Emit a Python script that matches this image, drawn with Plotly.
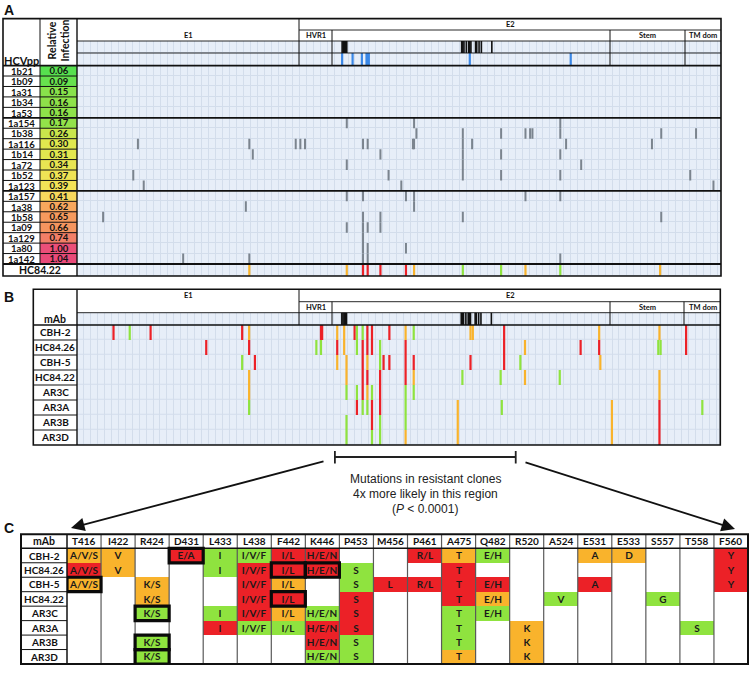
import numpy as np
import plotly.graph_objects as go

# ---------------- Panel A data ----------------
strains = ["1b21", "1b09", "1a31", "1b34", "1a53",
           "1a154", "1b38", "1a116", "1b14", "1a72", "1b52", "1a123",
           "1a157", "1a38", "1b58", "1a09", "1a129", "1a80", "1a142"]
relative_infection = [0.06, 0.09, 0.15, 0.16, 0.16,
                      0.17, 0.26, 0.30, 0.31, 0.34, 0.37, 0.39,
                      0.41, 0.62, 0.65, 0.66, 0.74, 1.00, 1.04]
group_sizes = [5, 7, 7]
strain_mutations = [
    [], [], [], [], [],
    [424, 482, 608],
    [484, 524, 557, 578, 582, 584, 608, 695, 725],
    [244, 340, 380, 384, 388, 438, 442, 481, 482, 524, 532, 613, 687],
    [343, 453, 524, 557, 608],
    [424, 524, 626],
    [240, 460, 524, 557, 608, 720],
    [249, 471, 740],
    [424, 438, 475, 482, 578, 608],
    [337, 482],
    [214, 438, 453, 524, 695],
    [424, 438, 442, 453],
    [438],
    [438, 442, 475],
    [283, 340, 438, 442, 608],
]
cd81_contacts = [420, 421, 422, 423, 424, 523, 524, 525, 527, 529, 530, 531,
                 535, 536, 538, 540, 549]
epitope_sites = [420, 429, 437, 441, 442, 443, 530, 617]

# ---------------- Panel B / C data ----------------
mabs = ["CBH-2", "HC84.26", "CBH-5", "HC84.22", "AR3C", "AR3A", "AR3B", "AR3D"]
table_columns = ["T416", "I422", "R424", "D431", "L433", "L438", "F442", "K446",
                 "P453", "M456", "P461", "A475", "Q482", "R520", "A524", "E531",
                 "E533", "S557", "T558", "F560"]
cell_text = [
    ["A/V/S", "V", "", "E/A", "I", "I/V/F", "I/L", "H/E/N", "", "", "R/L", "T", "E/H", "", "", "A", "D", "", "", "Y"],
    ["A/V/S", "V", "", "", "I", "I/V/F", "I/L", "H/E/N", "S", "", "", "T", "", "", "", "", "", "", "", "Y"],
    ["A/V/S", "", "K/S", "", "", "I/V/F", "I/L", "", "S", "L", "R/L", "T", "E/H", "", "", "A", "", "", "", "Y"],
    ["", "", "K/S", "", "", "I/V/F", "I/L", "", "S", "", "", "T", "E/H", "", "V", "", "", "G", "", ""],
    ["", "", "K/S", "", "I", "I/V/F", "I/L", "H/E/N", "S", "", "", "T", "E/H", "", "", "", "", "", "", ""],
    ["", "", "", "", "I", "I/V/F", "I/L", "H/E/N", "S", "", "", "T", "", "K", "", "", "", "", "S", ""],
    ["", "", "K/S", "", "", "", "", "H/E/N", "S", "", "", "T", "", "K", "", "", "", "", "", ""],
    ["", "", "K/S", "", "", "", "", "H/E/N", "S", "", "", "T", "", "K", "", "", "", "", "", ""],
]
# R = red, O = orange, G = green, . = none
cell_color = [
    "OO.RGGRR..ROG..OO..R",
    "RO..GRRRG..R.......R",
    "O.O..RO.GRRRR..R...R",
    "..O..RR.R..RO.G..G..",
    "..G.GROGR..GG.......",
    "....RGGRR..G.O....G.",
    "..G....RG..G.O......",
    "..G....GG..O.O......",
]
boxed_cells = [("CBH-2", "D431"), ("HC84.26", "F442"), ("HC84.26", "K446"),
               ("CBH-5", "T416"), ("HC84.22", "F442"), ("AR3C", "R424"),
               ("AR3B", "R424"), ("AR3D", "R424")]
extra_mutations = [
    [(223, "R"), (237, "G"), (255, "R"), (334, "R"), (340, "O"), (402, "R"), (403, "R"), (642, "O"), (694, "O"), (717, "R")],
    [(303, "R"), (340, "R"), (398, "G"), (402, "G"), (578, "O"), (626, "R"), (642, "R"), (693, "G"), (695, "G"), (717, "R")],
    [(334, "G"), (345, "R"), (574, "G"), (643, "O")],
    [(340, "O"), (578, "O"), (608, "G"), (694, "O")],
    [(340, "O"), (694, "O")],
    [(340, "G"), (653, "O"), (694, "R"), (731, "G")],
    [(653, "O"), (694, "R")],
    [(653, "O"), (694, "R")],
]
resistant_region = [414, 570]

# ---------------- styles ----------------
W, H = 752, 689
RED, ORANGE, GREEN = "#ec2127", "#f9b32c", "#8fe33f"
COLORS = {"R": RED, "O": ORANGE, "G": GREEN}
GRAY = "#7b848e"
BLUE = "#3a87e6"
CELL = "#e7eef8"
GAP = "#d3ddeb"
FONT = "Lato"
SANS = "Liberation Sans"


def fx(p):
    return p / W


def fy(p):
    return 1 - p / H


def uA(p):  # pixel -> panel A row units
    return -5.0 + (p - 18.6) / 10.442


def uB(p):  # pixel -> panel B row units
    return -2.88 + (p - 289.3) / 15.0


table_residues = [int(c[1:]) for c in table_columns]

fig = go.Figure()


def grid_heatmap(y_edges, xa, ya):
    x_edges = list(np.arange(191.5, 746.5, 6.0)) + [746.5]
    z = np.ones((len(y_edges) - 1, len(x_edges) - 1))
    return go.Heatmap(x=x_edges, y=y_edges, z=z, colorscale=[[0, CELL], [1, CELL]],
                      showscale=False, xgap=1, ygap=1, hoverinfo="skip",
                      xaxis=xa, yaxis=ya)


def vbars(entries, color, width, xa, ya):
    xs, ys = [], []
    for r, y0, y1 in entries:
        xs += [r, r, None]
        ys += [y0, y1, None]
    return go.Scatter(x=xs, y=ys, mode="lines", line=dict(color=color, width=width),
                      hoverinfo="skip", showlegend=False, xaxis=xa, yaxis=ya)


nA = len(strains)
hcA_bottom = 19.65
yA_edges = [uA(41), uA(53)] + [i - 0.5 for i in range(nA + 1)] + [hcA_bottom]
fig.add_trace(grid_heatmap(yA_edges, "x", "y"))
nB = len(mabs)
yB_edges = [uB(312.7)] + [i - 0.5 for i in range(nB + 1)]
fig.add_trace(grid_heatmap(yB_edges, "x2", "y2"))

# relative infection column
stops = [(0.06, "#57e04f"), (0.17, "#93e24a"), (0.26, "#c9e64c"), (0.30, "#e0e84e"),
         (0.39, "#f3e257"), (0.41, "#f7d85d"), (0.62, "#f7a75d"), (0.66, "#f5955f"),
         (0.74, "#f27f67"), (1.00, "#ec4f79"), (1.04, "#ea4a79")]
lo, hi = min(relative_infection), max(relative_infection)
cscale = [[(v - lo) / (hi - lo), c] for v, c in stops]
fig.add_trace(go.Heatmap(
    x=[-0.5, 0.5], y=[i - 0.5 for i in range(nA + 1)],
    z=[[v] for v in relative_infection], zmin=lo, zmax=hi, colorscale=cscale,
    showscale=False, texttemplate="<b>%{z:.2f}</b>",
    textfont=dict(family=FONT, size=9.5, color="#111"),
    hoverinfo="skip", xaxis="x4", yaxis="y"))

# panel C table cells
code = {"R": 1, "O": 2, "G": 3}
zc = [[code.get(ch) for ch in row] for row in cell_color]
fig.add_trace(go.Heatmap(
    x=list(range(len(table_columns))), y=list(range(nB)), z=zc, zmin=1, zmax=3,
    colorscale=[[0, RED], [0.5, ORANGE], [1, GREEN]], showscale=False,
    text=cell_text, texttemplate="<b>%{text}</b>",
    textfont=dict(family=FONT, size=10, color="#1a1a1a"),
    hoverinfo="skip", xaxis="x3", yaxis="y3"))

# panel A header bars
fig.add_trace(vbars([(r, uA(41), uA(53)) for r in cd81_contacts], "#111111", 1.6, "x", "y"))
fig.add_trace(vbars([(r, uA(53), uA(65.6)) for r in epitope_sites], BLUE, 2.2, "x", "y"))
# panel B header bars
fig.add_trace(vbars([(r, uB(312.7), -0.5) for r in cd81_contacts], "#111111", 1.6, "x2", "y2"))

# panel A strain mutations
entries = []
for i, muts in enumerate(strain_mutations):
    for r in muts:
        entries.append((r, i - 0.5, i + 0.5))
fig.add_trace(vbars(entries, GRAY, 2, "x", "y"))

# panel B marks (table cells + extra sites)
marks_by_color = {"R": [], "O": [], "G": []}
for i, m in enumerate(mabs):
    for j, ch in enumerate(cell_color[i]):
        if ch != ".":
            marks_by_color[ch].append((i, table_residues[j]))
    for r, ch in extra_mutations[i]:
        marks_by_color[ch].append((i, r))
hc = mabs.index("HC84.22")
for ch, lst in marks_by_color.items():
    fig.add_trace(vbars([(r, i - 0.5, i + 0.5) for i, r in lst], COLORS[ch], 2.2, "x2", "y2"))
    # HC84.22 row repeated at the bottom of panel A
    fig.add_trace(vbars([(r, nA - 0.5, hcA_bottom) for i, r in lst if i == hc],
                        COLORS[ch], 2.2, "x", "y"))

# ---------------- shapes ----------------
shapes = []


def L(x0, y0, x1, y1, w=1.0, c="#111", xref="paper", yref="paper"):
    d = dict(type="line", x0=x0, x1=x1, y0=y0, y1=y1, xref=xref, yref=yref,
             line=dict(color=c, width=w))
    if xref == "paper":
        d["x0"], d["x1"] = fx(x0), fx(x1)
    if yref == "paper":
        d["y0"], d["y1"] = fy(y0), fy(y1)
    return d


def R(x0, y0, x1, y1, w=1.6, c="#111", fill=None, layer="above"):
    return dict(type="rect", xref="paper", yref="paper", x0=fx(x0), x1=fx(x1),
                y0=fy(y0), y1=fy(y1), line=dict(color=c, width=w),
                fillcolor=fill if fill else "rgba(0,0,0,0)", layer=layer)


# gap colour underlays
shapes.append(R(77, 41, 721, 276, w=0, c="rgba(0,0,0,0)", fill=GAP, layer="below"))
shapes.append(R(77, 312.7, 720.3, 445, w=0, c="rgba(0,0,0,0)", fill=GAP, layer="below"))

# Panel A frame
shapes.append(R(3, 18.6, 721, 276, w=1.6))
shapes.append(L(40, 18.6, 40, 264))
shapes.append(L(77, 18.6, 77, 276, 1.4))
shapes.append(L(3, 65.6, 721, 65.6, 1.6))
shapes.append(L(299, 30, 721, 30, 0.9))
shapes.append(L(77, 41, 721, 41, 0.9))
shapes.append(L(77, 53, 721, 53, 0.9))
shapes.append(L(299, 18.6, 299, 65.6, 1.0))
for xv in (332, 610, 685):
    shapes.append(L(xv, 30, xv, 65.6, 1.0))
bounds = list(np.cumsum(group_sizes))
for i in range(nA - 1):
    if i + 1 in bounds:
        continue
    shapes.append(L(3, i + 0.5, 77, i + 0.5, 1.0, yref="y"))
for b in bounds:
    shapes.append(L(3, b - 0.5, 721, b - 0.5, 1.8, yref="y"))

# Panel B frame
shapes.append(R(33.3, 289.3, 720.3, 445, w=1.6))
shapes.append(L(77, 289.3, 77, 445, 1.4))
shapes.append(L(33.3, 325, 720.3, 325, 1.6))
shapes.append(L(299, 301.7, 720.3, 301.7, 0.9))
shapes.append(L(77, 312.7, 720.3, 312.7, 0.9))
shapes.append(L(299, 289.3, 299, 325, 1.0))
for xv in (332, 610, 684):
    shapes.append(L(xv, 301.7, xv, 325, 1.0))
for i in range(nB - 1):
    shapes.append(L(33.3, i + 0.5, 77, i + 0.5, 1.0, yref="y2"))

# bracket for resistant region
shapes.append(dict(type="line", xref="x2", yref="paper", x0=resistant_region[0], x1=resistant_region[1],
                   y0=fy(457), y1=fy(457), line=dict(color="#222", width=1.8)))
for xr in resistant_region:
    shapes.append(dict(type="line", xref="x2", yref="paper", x0=xr, x1=xr,
                       y0=fy(451), y1=fy(463.5), line=dict(color="#222", width=1.8)))

# Panel C frame
nC = len(table_columns)
for j in range(nC - 1):
    shapes.append(dict(type="line", xref="x3", yref="paper", x0=j + 0.5, x1=j + 0.5,
                       y0=fy(534.3), y1=fy(664), line=dict(color="#5a5a5a", width=1.2)))
shapes.append(L(21, 548.3, 748, 548.3, 1.5))
shapes.append(L(67, 534.3, 67, 664, 1.5))
for i in range(nB - 1):
    shapes.append(L(21, i + 0.5, 67, i + 0.5, 1.0, yref="y3"))
shapes.append(R(21, 534.3, 748, 664, w=2))
for m, c in boxed_cells:
    i, j = mabs.index(m), table_columns.index(c)
    shapes.append(dict(type="rect", xref="x3", yref="y3", x0=j - 0.5, x1=j + 0.5,
                       y0=i - 0.5, y1=i + 0.5, line=dict(color="#0a0a0a", width=3.2)))

# ---------------- annotations ----------------
ann = []


def T(x, y, text, size=10.5, bold=True, xref="paper", yref="paper", family=FONT,
      color="#111", **kw):
    d = dict(x=x, y=y, xref=xref, yref=yref, showarrow=False,
             text=f"<b>{text}</b>" if bold else text,
             font=dict(family=family, size=size, color=color),
             xanchor="center", yanchor="middle")
    if xref == "paper":
        d["x"] = fx(x)
    if yref == "paper":
        d["y"] = fy(y)
    d.update(kw)
    return d


ann.append(T(9, 9.5, "A", 14, family=SANS))
ann.append(T(9, 296.5, "B", 14, family=SANS))
ann.append(T(9, 528, "C", 14, family=SANS))

ann.append(T(21.5, 60, "HCVpp", 11))
ann.append(T(58.5, 41, "Relative<br>Infection", 10.5, textangle=-90))
ann.append(T(188, 35.5, "E1", 7.5))
ann.append(T(510, 24.3, "E2", 7.5))
ann.append(T(315.5, 35.5, "HVR1", 7.5))
ann.append(T(647, 35.5, "Stem", 7.5))
ann.append(T(703, 35.5, "TM dom", 7.5))
for i, s in enumerate(strains):
    ann.append(T(21.5, i, s, 9.5, yref="y", height=10, valign="middle"))
ann.append(T(40, (nA - 0.5 + hcA_bottom) / 2, "HC84.22", 10.5, yref="y"))

ann.append(T(188, 295.5, "E1", 7.5))
ann.append(T(510, 295.5, "E2", 7.5))
ann.append(T(315.5, 307.2, "HVR1", 7.5))
ann.append(T(647, 307.2, "Stem", 7.5))
ann.append(T(702.5, 307.2, "TM dom", 7.5))
ann.append(T(55, 319, "mAb", 10.5))
for i, m in enumerate(mabs):
    ann.append(T(55, i, m, 10, yref="y2"))

ann.append(T(425, 479, "Mutations in resistant clones", 12, bold=False, family=SANS, color="#222"))
ann.append(T(425, 494, "4x more likely in this region", 12, bold=False, family=SANS, color="#222"))
ann.append(T(425, 509, "(<i>P</i> &lt; 0.0001)", 12, bold=False, family=SANS, color="#222"))

ann.append(dict(x=fx(71), y=fy(528), xref="paper", yref="paper", ax=254, ay=-67,
                showarrow=True, arrowhead=2, arrowsize=1.5, arrowwidth=1.8,
                arrowcolor="#111", text=""))
ann.append(dict(x=fx(735), y=fy(529), xref="paper", yref="paper", ax=-211, ay=-67,
                showarrow=True, arrowhead=2, arrowsize=1.5, arrowwidth=1.8,
                arrowcolor="#111", text=""))

ann.append(T(44, -0.98, "mAb", 10.5, yref="y3"))
for j, c in enumerate(table_columns):
    ann.append(T(j, -0.98, c, 10, xref="x3", yref="y3"))
for i, m in enumerate(mabs):
    ann.append(T(44, i, m, 10, yref="y3"))

# ---------------- layout ----------------
hid = dict(visible=False, showgrid=False, zeroline=False, fixedrange=True)
fig.update_layout(
    width=W, height=H, autosize=False,
    margin=dict(l=0, r=0, t=0, b=0),
    paper_bgcolor="white", plot_bgcolor="rgba(0,0,0,0)",
    showlegend=False,
    xaxis=dict(domain=[fx(77), fx(721)], range=[191.5, 746.5], anchor="y", **hid),
    yaxis=dict(domain=[fy(276), fy(18.6)], range=[hcA_bottom, -5.0], anchor="x", **hid),
    xaxis4=dict(domain=[fx(40), fx(77)], range=[-0.5, 0.5], anchor="y", **hid),
    xaxis2=dict(domain=[fx(77), fx(720.3)], range=[191.5, 746.5], anchor="y2", **hid),
    yaxis2=dict(domain=[fy(445), fy(289.3)], range=[7.5, -2.88], anchor="x2", **hid),
    xaxis3=dict(domain=[fx(67), fx(748)], range=[-0.5, 19.5], anchor="y3", **hid),
    yaxis3=dict(domain=[fy(664), fy(534.3)], range=[7.5, -1.47], anchor="x3", **hid),
    shapes=shapes, annotations=ann,
)
fig.write_html("out.html", config={"displayModeBar": False},
               post_script="document.body.style.margin='0';document.body.style.overflow='hidden';")
